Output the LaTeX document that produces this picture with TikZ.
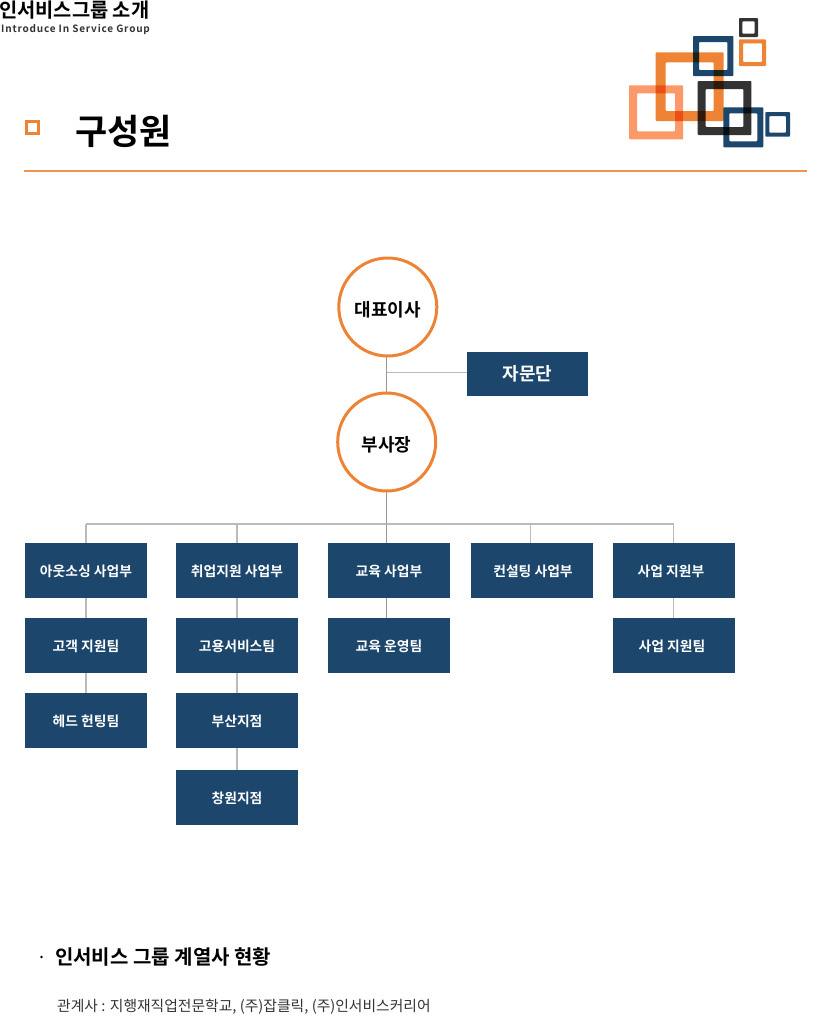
\documentclass[tikz,border=0pt]{standalone}
\usepackage{fontspec}
\setmainfont{Noto Sans CJK KR}[BoldFont={Noto Sans CJK KR Bold}]
\newfontfamily\spacedfont{Noto Sans CJK KR Bold}[LetterSpace=8]
\definecolor{navy}{HTML}{1C466C}
\definecolor{orng}{HTML}{EE8336}
\definecolor{lorng}{HTML}{FB9A68}
\definecolor{rulec}{HTML}{F2924F}
\definecolor{drk}{HTML}{333333}
\definecolor{conn}{HTML}{BBBBBB}
\definecolor{connd}{HTML}{999999}
\tikzset{
 x=1pt,y=-1pt,
 box/.style={fill=navy,text=white,font=\bfseries\fontsize{13.8}{14}\selectfont,minimum width=122pt,minimum height=55pt,inner sep=0pt,anchor=center,text height=14pt,text depth=1.8pt},
 circ/.style={circle,draw=orng,fill=white,line width=3pt,minimum size=98pt,inner sep=0pt,font=\bfseries\fontsize{18}{18}\selectfont,text=black,text height=22pt,text depth=2.4pt},
 link/.style={draw=conn,line width=1.2pt},
 linkd/.style={draw=connd,line width=1pt},
}
\newcommand{\lsq}[6]{% x0 y0 x1 y1 thickness colour
 \fill[#6,even odd rule,blend mode=multiply,rounded corners=0.8pt] (#1,#2) rectangle (#3,#4) ({#1+#5},{#2+#5}) rectangle ({#3-#5},{#4-#5});}
\begin{document}
\begin{tikzpicture}
\useasboundingbox (0,0) rectangle (824,1021);
% header
\node[anchor=west,inner sep=0pt,font=\bfseries\fontsize{19.8}{20}\selectfont] (hd) at (-1,10) {인서비스그룹 소개};
\node[anchor=west,inner sep=0pt,font=\spacedfont\fontsize{10}{10}\selectfont,text=drk] (hs) at (1,30) {Introduce In Service Group};
\node[draw=orng,line width=3pt,minimum size=12pt,inner sep=0pt] (bul) at (32,127) {};
\node[anchor=west,inner sep=0pt,font=\bfseries\fontsize{35}{35}\selectfont] (ti) at (75,131.5) {구성원};
\draw[draw=rulec,line width=2pt] (24,170.5) -- (807,170.5);
% logo
\lsq{739}{18}{758}{37}{3.3}{drk}
\lsq{739}{39.3}{766}{66}{4}{orng}
\lsq{629}{85.3}{683}{139.3}{8}{lorng}
\lsq{655.7}{52.3}{723.7}{121}{10}{orng}
\lsq{693}{36}{733.3}{76}{6}{navy}
\lsq{697.7}{81}{751.3}{135}{8}{drk}
\lsq{723.3}{107.3}{763.3}{147.3}{6}{navy}
\lsq{765.3}{112}{790}{136.7}{4}{navy}
% nodes
\node[box,minimum width=121.3pt,minimum height=44pt,font=\bfseries\fontsize{18}{18}\selectfont,text height=16pt,text depth=2.4pt] (adv) at (527.6,374) {자문단};
\node[box] (a1) at (86,570.5) {아웃소싱 사업부};
\node[box] (a2) at (86,645.5) {고객 지원팀};
\node[box] (a3) at (86,720.5) {헤드 헌팅팀};
\node[box] (b1) at (237,570.5) {취업지원 사업부};
\node[box] (b2) at (237,645.5) {고용서비스팀};
\node[box] (b3) at (237,720.5) {부산지점};
\node[box] (b4) at (237,797.5) {창원지점};
\node[box] (c1) at (389,570.5) {교육 사업부};
\node[box] (c2) at (389,645.5) {교육 운영팀};
\node[box] (d1) at (532,570.5) {\hspace{2pt}컨설팅 사업부};
\node[box] (e1) at (674,570.5) {사업 지원부\hbox to 6pt{}};
\node[box] (e2) at (674,645.5) {사업 지원팀\hbox to 4pt{}};
% connectors
\coordinate (bus) at (386.7,524);
\coordinate (junc) at (386.7,372);
\coordinate (dropd) at (530.5,524);
\draw[linkd] (junc |- 0,355) -- (bus);
\draw[link,line width=1pt] (junc) -- (junc -| adv.west);
\draw[link] (86,524) -- (673.7,524);
\draw[link] (86,524) -- (a1.north);
\draw[link] (b1.north |- bus) -- (b1.north);
\draw[linkd] (bus) -- (bus |- c1.north);
\draw[link] (dropd) -- (dropd |- d1.north);
\draw[link] (673.7,524) -- (673.7,543);
\draw[link] (a1) -- (a2); \draw[link] (a2) -- (a3);
\draw[link] (b1) -- (b2); \draw[link] (b2) -- (b3); \draw[link] (b3) -- (b4);
\draw[linkd] (bus |- c1.south) -- (bus |- c2.north);
\draw[link] (673.7,598) -- (673.7,618);
% drawn after the connectors so that the circles cover them
\node[circ] (ceo) at (387.8,307) {대표이사};
\node[circ] (vp) at (386.7,442) {부사장};
% footer
\fill[black] (41.5,957) circle (1.3pt);
\node[anchor=west,inner sep=0pt,font=\bfseries\fontsize{20}{20}\selectfont] (f1) at (55,957) {인서비스 그룹 계열사 현황};
\node[anchor=west,inner sep=0pt,font=\fontsize{14.8}{15}\selectfont,text=drk] (f2) at (57,1007) {관계사 : 지행재직업전문학교, (주)잡클릭, (주)인서비스커리어};
\end{tikzpicture}
\end{document}
